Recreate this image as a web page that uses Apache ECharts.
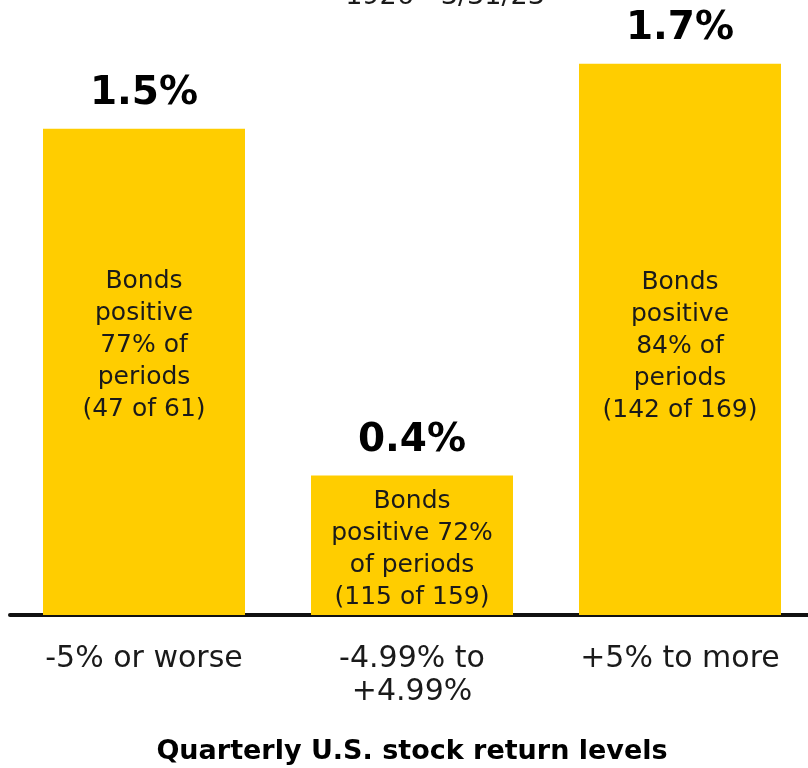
<!DOCTYPE html>
<html>
<head>
<meta charset="utf-8">
<script src="https://cdn.jsdelivr.net/npm/echarts@6/dist/echarts.min.js"></script>
<style>
html,body{margin:0;padding:0;background:#fff;}
#chart{width:808px;height:768px;}
</style>
</head>
<body>
<div id="chart"></div>
<script>
// Data
var categories = ['-5% or worse', '-4.99% to\n+4.99%', '+5% to more'];
var avgBondReturn = [1.5, 0.43, 1.7];
var valueLabels = ['1.5%', '0.4%', '1.7%'];
var innerLabels = [
  'Bonds\npositive\n77% of\nperiods\n(47 of 61)',
  'Bonds\npositive 72%\nof periods\n(115 of 159)',
  'Bonds\npositive\n84% of\nperiods\n(142 of 169)'
];
var subtitleText = '1926 - 3/31/23';
var axisTitle = 'Quarterly U.S. stock return levels';

// Styling (offsets of inner text from bar top)
var innerOffsets = [137, 10, 203];
var FONT = '"DejaVu Sans", sans-serif';

var chart = echarts.init(document.getElementById('chart'), null, {renderer: 'canvas'});

var barData = avgBondReturn.map(function (v, i) {
  return {
    value: v,
    label: {
      show: true,
      position: ['50%', innerOffsets[i]],
      align: 'center',
      verticalAlign: 'top',
      formatter: innerLabels[i],
      fontFamily: FONT,
      fontSize: 25,
      lineHeight: 32,
      color: '#1a1a1a'
    }
  };
});

var topData = avgBondReturn.map(function (v, i) {
  return {
    value: v,
    label: {
      show: true,
      position: 'top',
      distance: 15,
      formatter: valueLabels[i],
      fontFamily: FONT,
      fontWeight: 'bold',
      fontSize: 39,
      color: '#000'
    }
  };
});

var option = {
  animation: false,
  backgroundColor: '#ffffff',
  grid: {left: 10, width: 804, top: -1, bottom: 153, containLabel: false, outerBoundsMode: 'none'},
  xAxis: {
    type: 'category',
    data: categories,
    axisLine: {show: true, lineStyle: {color: '#111', width: 4}},
    axisTick: {show: false},
    axisLabel: {
      margin: 28,
      fontFamily: FONT,
      fontSize: 30,
      lineHeight: 33,
      color: '#1a1a1a'
    },
    name: axisTitle,
    nameLocation: 'middle',
    nameGap: 123,
    nameTextStyle: {
      fontFamily: FONT,
      fontWeight: 'bold',
      fontSize: 27,
      color: '#000'
    }
  },
  yAxis: {
    type: 'value',
    min: 0,
    max: 1.9,
    show: false,
    splitLine: {show: false}
  },
  series: [
    {
      type: 'bar',
      data: barData,
      barWidth: 202,
      itemStyle: {color: '#FFCD00'},
      z: 2
    },
    {
      type: 'bar',
      data: topData,
      barWidth: 202,
      barGap: '-100%',
      itemStyle: {color: 'rgba(0,0,0,0)'},
      z: 3,
      silent: true
    }
  ],
  graphic: [
    {
      type: 'text',
      x: 445,
      y: -3,
      style: {
        text: subtitleText,
        font: '27px "DejaVu Sans", sans-serif',
        fill: '#1a1a1a',
        textAlign: 'center',
        align: 'center',
        textVerticalAlign: 'middle',
        verticalAlign: 'middle'
      }
    }
  ]
};
chart.setOption(option);
</script>
</body>
</html>
